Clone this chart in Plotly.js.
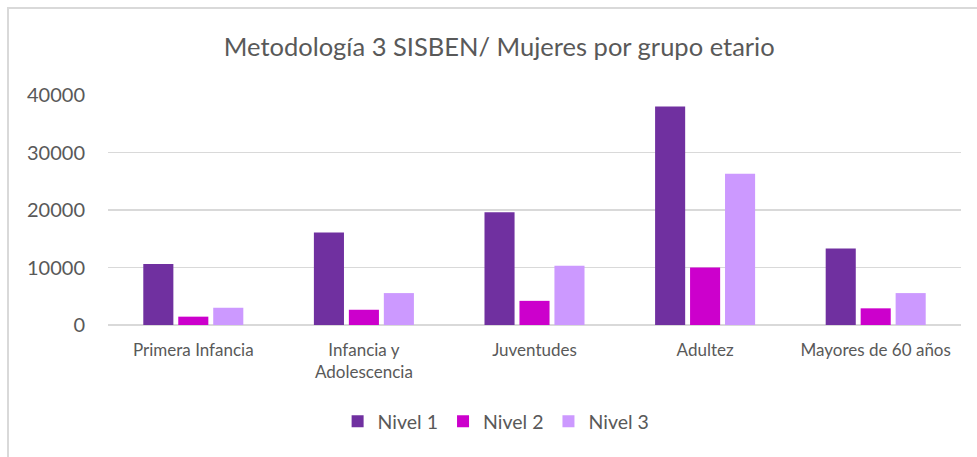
<!DOCTYPE html>
<html>
<head>
<meta charset="utf-8">
<script src="https://cdn.plot.ly/plotly-3.0.1.min.js"></script>
<style>
html,body{margin:0;padding:0;background:#fff;}
#frame{position:absolute;left:7px;top:7px;width:990px;height:470px;border-left:2px solid #d9d9d9;border-top:2px solid #d9d9d9;box-sizing:border-box;pointer-events:none;z-index:5;}
#chart{position:absolute;left:0;top:0;width:977px;height:457px;}
</style>
</head>
<body>
<div id="chart"></div>
<div id="frame"></div>
<script>
const categories = ["Primera Infancia", "Infancia y<br>Adolescencia", "Juventudes", "Adultez", "Mayores de 60 años"];
const seriesNames = ["Nivel 1", "Nivel 2", "Nivel 3"];
const nivel1 = [10600, 16100, 19600, 38000, 13300];
const nivel2 = [1450, 2650, 4200, 10000, 2900];
const nivel3 = [3000, 5550, 10300, 26300, 5550];
const colors = ["#7030A0", "#CC00CC", "#CC99FF"];
const yTicks = [0, 10000, 20000, 30000, 40000];

const values = [nivel1, nivel2, nivel3];
const traces = values.map((v, i) => ({
  type: "bar",
  name: seriesNames[i],
  x: categories,
  y: v,
  marker: {color: colors[i], line: {width: 0}},
  hoverinfo: "x+y+name"
}));

const layout = {
  width: 977,
  height: 457,
  margin: {l: 108, r: 16, t: 95, b: 132},
  paper_bgcolor: "#ffffff",
  plot_bgcolor: "#ffffff",
  font: {family: "Lato, 'Open Sans', sans-serif", color: "#595959"},
  title: {
    text: "Metodología 3 SISBEN/ Mujeres por grupo etario",
    font: {size: 25.5, color: "#595959", family: "Lato, 'Open Sans', sans-serif"},
    x: 0.511, xanchor: "center",
    y: 1 - 47/457, yanchor: "middle", yref: "container"
  },
  barmode: "group",
  bargap: 0.385,
  bargroupgap: 0.14,
  xaxis: {
    type: "category",
    tickfont: {size: 17, color: "#595959"},
    showgrid: false,
    showline: false,
    ticks: "",
    tickangle: 0,
    ticklabelstandoff: 13
  },
  yaxis: {
    range: [0, 40000],
    tickvals: yTicks,
    ticktext: yTicks.map(String),
    tickfont: {size: 20, color: "#595959"},
    gridcolor: "#d9d9d9",
    gridwidth: 1.5,
    zeroline: true,
    zerolinecolor: "#d9d9d9",
    zerolinewidth: 1.5,
    showline: false,
    ticks: "",
    ticklen: 0,
    ticklabelstandoff: 22,
    automargin: false
  },
  legend: {
    orientation: "h",
    x: 0.455, xanchor: "center",
    y: -0.42, yanchor: "middle",
    font: {size: 19.5, color: "#595959"},
    itemwidth: 30,
    traceorder: "normal"
  },
  showlegend: true
};

Plotly.newPlot("chart", traces, layout, {displayModeBar: false, staticPlot: true});
</script>
</body>
</html>
